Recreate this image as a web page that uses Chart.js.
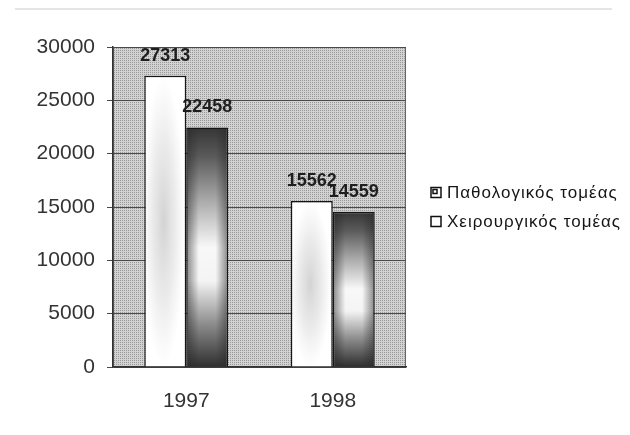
<!DOCTYPE html>
<html><head><meta charset="utf-8">
<script src="https://cdn.jsdelivr.net/npm/chart.js@4.4.0/dist/chart.umd.min.js"></script>
<style>html,body{margin:0;padding:0;background:#fff}#wrap{width:630px;height:435px}</style>
</head><body><div id="wrap"><canvas id="c" width="630" height="435"></canvas></div>
<script>
const categories = ['1997', '1998'];
const seriesNames = ['Παθολογικός τομέας', 'Χειρουργικός τομέας'];
const pathologyValues = [27313, 15562];
const surgeryValues = [22458, 14559];
const yTicks = [0, 5000, 10000, 15000, 20000, 25000, 30000];

const CAT_PCT = 0.573;
const FONT = "'Liberation Sans', Arial, sans-serif";

function makePattern(ctx) {
  const p = document.createElement('canvas');
  p.width = 2; p.height = 2;
  const g = p.getContext('2d');
  g.fillStyle = '#d2d2d2'; g.fillRect(0, 0, 2, 2);
  g.fillStyle = '#999999'; g.fillRect(0, 0, 1, 1);
  return ctx.createPattern(p, 'repeat');
}

function barBounds(c) {
  const xs = c.chart.scales.x, ys = c.chart.scales.y;
  if (!xs || !ys) return null;
  const center = xs.getPixelForValue(c.dataIndex);
  const bw = (xs.width / categories.length) * CAT_PCT / 2;
  const left = c.datasetIndex === 0 ? center - bw : center;
  const v = c.chart.data.datasets[c.datasetIndex].data[c.dataIndex];
  const b = { left, right: left + bw, top: ys.getPixelForValue(v), bottom: ys.getPixelForValue(0) };
  if (![b.left, b.right, b.top, b.bottom].every(Number.isFinite) || b.right <= b.left || b.bottom <= b.top) return null;
  return b;
}

function barFill(c) {
  const fallback = c.datasetIndex === 0 ? '#f4f4f4' : '#888';
  if (c.type !== 'data') return fallback;
  const b = barBounds(c); if (!b) return fallback;
  const w = Math.max(2, Math.round(b.right - b.left)), h = Math.max(2, Math.round(b.bottom - b.top));
  const oc = document.createElement('canvas'); oc.width = w; oc.height = h;
  const g = oc.getContext('2d');
  if (c.datasetIndex === 0) {
    g.fillStyle = '#ffffff'; g.fillRect(0, 0, w, h);
    g.save();
    g.translate(w * 0.46, h * 0.5);
    g.scale(w * 0.5, h * 0.5);
    const rg = g.createRadialGradient(0, 0, 0, 0, 0, 1);
    rg.addColorStop(0, 'rgba(150,150,150,0.42)');
    rg.addColorStop(0.55, 'rgba(165,165,165,0.22)');
    rg.addColorStop(1, 'rgba(180,180,180,0)');
    g.fillStyle = rg; g.fillRect(-1.5, -1.5, 3, 3);
    g.restore();
  } else {
    const vg = g.createLinearGradient(0, 0, 0, h);
    vg.addColorStop(0, '#353535');
    vg.addColorStop(0.12, '#5a5a5a');
    vg.addColorStop(0.3, '#a8a8a8');
    vg.addColorStop(0.5, '#f8f8f8');
    vg.addColorStop(0.64, '#f4f4f4');
    vg.addColorStop(0.82, '#8c8c8c');
    vg.addColorStop(1, '#2e2e2e');
    g.fillStyle = vg; g.fillRect(0, 0, w, h);
    const hg = g.createLinearGradient(0, 0, w, 0);
    hg.addColorStop(0, 'rgba(40,40,40,0.55)');
    hg.addColorStop(0.3, 'rgba(40,40,40,0)');
    hg.addColorStop(0.7, 'rgba(40,40,40,0)');
    hg.addColorStop(1, 'rgba(40,40,40,0.55)');
    g.fillStyle = hg; g.fillRect(0, 0, w, h);
  }
  const pat = c.chart.ctx.createPattern(oc, 'no-repeat');
  pat.setTransform(new DOMMatrix().translate(b.left, b.top));
  return pat;
}

const bgPlugin = {
  id: 'plotBg',
  beforeDraw(chart) {
    const { ctx, chartArea: a } = chart;
    ctx.save();
    ctx.fillStyle = '#ffffff';
    ctx.fillRect(0, 0, chart.width, chart.height);
    ctx.strokeStyle = '#dddddd'; ctx.lineWidth = 1.5;
    ctx.beginPath(); ctx.moveTo(15, 9); ctx.lineTo(612, 9); ctx.stroke();
    ctx.fillStyle = makePattern(ctx);
    ctx.fillRect(a.left, a.top, a.right - a.left, a.bottom - a.top);
    ctx.strokeStyle = '#666'; ctx.lineWidth = 1;
    ctx.strokeRect(a.left + 0.5, a.top + 0.5, a.right - a.left - 1, a.bottom - a.top - 1);
    ctx.restore();
  }
};

const labelPlugin = {
  id: 'valueLabels',
  afterDatasetsDraw(chart) {
    const ctx = chart.ctx;
    ctx.save();
    ctx.font = 'bold 18px ' + FONT;
    ctx.fillStyle = '#1e1e1e';
    ctx.textAlign = 'center';
    ctx.textBaseline = 'alphabetic';
    chart.data.datasets.forEach((ds, di) => {
      chart.getDatasetMeta(di).data.forEach((el, i) => {
        ctx.fillText(String(ds.data[i]), el.x, el.y - 15);
      });
    });
    ctx.restore();
  }
};

const legendPlugin = {
  id: 'sideLegend',
  afterDraw(chart) {
    const ctx = chart.ctx, a = chart.chartArea;
    const cy = (a.top + a.bottom) / 2;
    const x0 = a.right + 25;
    ctx.save();
    ctx.font = '17px ' + FONT;
    ctx.letterSpacing = '1px';
    ctx.textBaseline = 'middle';
    ctx.textAlign = 'left';
    chart.data.datasets.forEach((ds, i) => {
      const y = cy + (i === 0 ? -14.5 : 14.5);
      ctx.fillStyle = '#fff';
      ctx.fillRect(x0, y - 5, 10, 10);
      ctx.strokeStyle = '#111'; ctx.lineWidth = 1.5;
      ctx.strokeRect(x0, y - 5, 10, 10);
      if (i === 0) { ctx.strokeRect(x0 + 2, y - 3, 4, 4); }
      ctx.fillStyle = '#151515';
      ctx.fillText(ds.label, x0 + 16, y + 1);
    });
    ctx.restore();
  }
};

new Chart(document.getElementById('c'), {
  type: 'bar',
  data: {
    labels: categories,
    datasets: [
      { label: seriesNames[0], data: pathologyValues, backgroundColor: barFill, borderColor: '#151515', borderWidth: 1.5, borderSkipped: 'bottom' },
      { label: seriesNames[1], data: surgeryValues, backgroundColor: barFill, borderColor: '#151515', borderWidth: 1.5, borderSkipped: 'bottom' }
    ]
  },
  options: {
    responsive: false,
    animation: false,
    devicePixelRatio: 1,
    layout: { padding: { top: 47, right: 224, bottom: 0, left: 0 } },
    datasets: { bar: { categoryPercentage: CAT_PCT, barPercentage: 1 } },
    plugins: { legend: { display: false }, tooltip: { enabled: false } },
    scales: {
      x: {
        grid: { display: false },
        border: { color: '#333', width: 1.5 },
        ticks: { font: { family: FONT, size: 21 }, color: '#333', padding: 14 },
        afterFit: s => { s.height = 68; }
      },
      y: {
        min: 0, max: 30000,
        afterBuildTicks: s => { s.ticks = yTicks.map(v => ({ value: v })); },
        grid: { color: '#4a4a4a', lineWidth: 1, tickLength: 6, drawTicks: true },
        border: { color: '#333', width: 1.5 },
        ticks: { font: { family: FONT, size: 21 }, color: '#333', padding: 12, callback: v => String(v) },
        afterFit: s => { s.width = 113; }
      }
    }
  },
  plugins: [bgPlugin, labelPlugin, legendPlugin]
});
</script>
</body></html>
